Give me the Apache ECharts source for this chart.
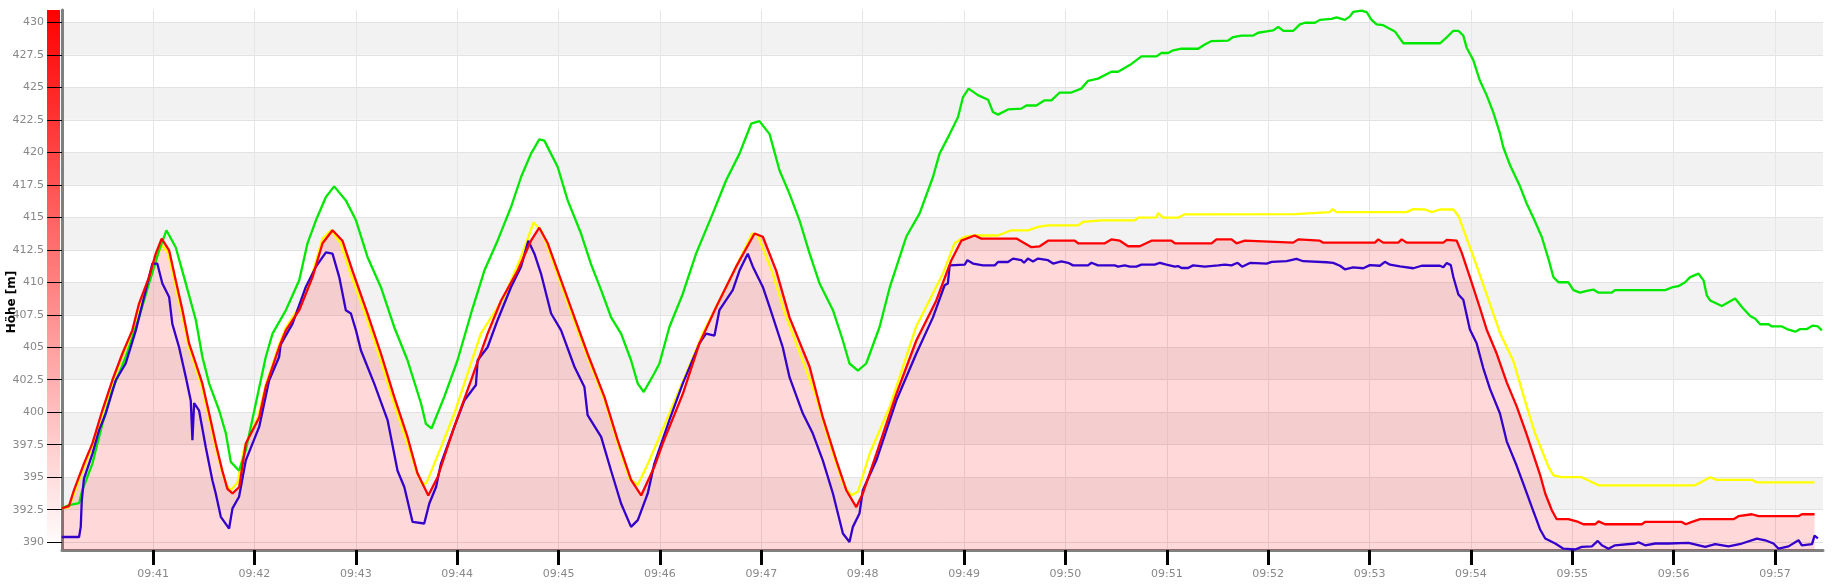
<!DOCTYPE html>
<html>
<head>
<meta charset="utf-8">
<script src="https://cdn.jsdelivr.net/npm/echarts@6/dist/echarts.min.js"></script>
<style>html,body{margin:0;padding:0;background:#fff}#c{width:1838px;height:586px}</style>
</head>
<body>
<div id="c"></div>
<script>
// time in seconds after 09:40:00, values in m
const xTickSeconds = [60,120,180,240,300,360,420,480,540,600,660,720,780,840,900,960,1020];
const yTicks = [390,392.5,395,397.5,400,402.5,405,407.5,410,412.5,415,417.5,420,422.5,425,427.5,430];
const yAxisTitle = 'Höhe [m]';

const redT = [5.9,10.2,13.2,19.1,24.1,30,35.9,41.8,47.7,51.7,57.6,61.6,65.1,69.5,73.4,77.4,81.3,85.3,89.2,93.2,97.1,101,104,107,111,114.9,122.8,126.7,134.6,138.6,146.5,154.4,160.3,166.2,172.1,178,186.9,194.9,202.7,210.6,216.5,222.9,228.4,238.3,248.2,258,266,275.8,283.7,288.6,293.6,301.5,309.4,317.2,327.1,335,342.9,348.9,356.7,361.7,373.5,383.4,393.3,405.1,416,420.9,428.8,436.7,448.6,456.4,464.4,470.3,476.2,480.1,488.1,499.9,511.7,523.6,532.5,538.4,546.3,550.2,571,579.9,584.8,589.7,605.5,607.5,623.3,627.2,632.2,637.1,644,650.9,662.7,664.8,686.5,689.4,698.3,701.3,706.2,734.8,737.8,750.6,752.6,783.2,785.2,788.1,797,799,802,823.7,825.7,831.6,834.5,839.4,845.4,849.3,855.3,861.2,867.1,873,880.9,884,887.9,890.8,897.7,903.6,906.6,913.5,915.5,919.4,941.2,943.1,964.8,967.2,970.8,975.7,995.4,998.4,1006.3,1010.2,1033.9,1035.9,1043.4];
const redV = [392.6,392.77,394.0,396.05,397.6,400.15,402.46,404.5,406.3,408.36,410.4,412.2,413.36,412.46,410.15,407.85,405.3,403.75,402.2,399.9,397.6,395.5,394.1,393.75,394.25,397.6,399.6,401.95,405.0,406.3,407.85,410.4,413.0,414.0,413.2,410.9,407.6,404.5,401.2,398.1,395.3,393.6,395.0,398.9,402.46,406.05,408.6,410.9,413.2,414.2,413.0,410.15,407.3,404.5,401.2,397.85,394.8,393.6,395.8,397.6,401.4,405.3,408.1,411.2,413.75,413.5,410.9,407.3,403.5,399.6,396.3,394.0,392.7,393.75,396.8,401.4,405.5,408.6,411.7,413.2,413.6,413.36,413.36,412.7,412.77,413.2,413.2,413.0,413.0,413.3,413.2,412.77,412.77,413.2,413.2,413.0,413.0,413.3,413.3,413.0,413.2,413.05,413.3,413.2,413.05,413.05,413.3,413.05,413.05,413.3,413.05,413.05,413.26,413.2,412.3,410.4,408.0,406.37,404.5,402.3,400.45,398.3,395.2,393.75,392.46,391.77,391.77,391.56,391.38,391.38,391.6,391.38,391.38,391.56,391.56,391.38,391.56,391.77,391.77,392.0,392.15,392.0,392.0,392.15,392.15];

const yellowT = [5.9,10.2,13.2,19.1,24.1,30,35.9,41.8,47.7,51.7,57.6,61.6,65.5,69,73,77,81,85,89,93,97,101,104,106,110,114,122,126.7,134.6,138.6,146.5,154.4,160.3,165.3,171,177,186,194,202,210,216,219.5,222,230.4,238.3,254,267.9,277.8,285.2,290,293,301,309,317,327,335,342,346.9,353.8,365.6,385.3,401.2,414.6,418,426.8,434,445,452.4,460,468.3,473.2,477.2,484.1,496,511.7,527.5,534.4,540.3,546.3,560.1,568,578,583.8,589.7,607.5,610.4,621.3,641.1,643,653.9,654.8,657.8,666.7,670.6,736,736.8,756.5,758.1,760.5,802,805.9,812.8,816.8,821.7,829.6,832.6,837.5,841.4,849.3,857.2,865.1,873,878,885.9,888.8,893.8,905.6,915.5,972.7,981.6,985.5,1006.3,1009.2,1043.4];
const yellowV = [392.6,392.7,393.7,395.8,397.4,399.9,402.2,404.3,406.1,408.1,410.2,411.9,412.85,412.2,409.9,407.6,405.1,403.5,401.9,399.6,397.3,395.3,394.3,394.0,394.6,397.3,399.6,402.1,405.2,406.5,408.1,410.7,413.36,414.0,413.0,410.6,407.4,404.3,400.9,397.8,395.4,394.4,394.6,397.3,399.9,406.05,408.9,411.95,414.6,413.9,412.9,410.0,407.1,404.3,401.0,397.6,394.9,394.4,396.3,399.9,406.05,410.15,413.75,413.6,410.67,407.6,403.8,401.2,397.8,394.5,393.6,393.9,396.8,400.4,406.6,410.67,413.0,413.5,413.6,413.6,414.0,414.0,414.26,414.38,414.38,414.64,414.77,414.77,414.97,415.0,415.33,414.97,414.97,415.23,415.25,415.4,415.4,415.63,415.4,415.4,415.63,415.6,415.4,415.6,415.6,415.1,413.37,412.0,409.06,406.1,403.95,400.45,398.36,395.8,395.15,395.0,395.0,394.38,394.38,395.0,394.8,394.8,394.6,394.6];

const greenT = [5.9,10.2,16.2,18.1,24.1,30,35.9,43.8,51.7,57.6,63.6,67.9,73.4,79.4,85.3,89.2,93.2,99.1,103.1,106,110.9,114.9,120.8,126.7,130.7,138.6,146.5,151.4,156.4,162.3,167.2,174.1,180.1,186.9,194.9,202.7,210.6,218.6,221.5,224.8,232.4,240.2,248.2,256.1,263.9,271.9,277.8,283.7,288.6,291.6,299.5,305.4,313.3,319.2,325.2,331.1,337,342.9,346.9,350.4,356.7,359.7,365.6,373.5,381.4,391.3,399.2,407.1,414,418.9,424.9,430.8,436.7,442.6,448.6,454.5,462.4,468.3,472.2,477.2,482.1,490,496,505.8,513.7,521.6,525.5,531.5,536.4,539.4,542.7,548.2,554.2,557.1,560.1,566,573.9,576.9,582.8,587.7,591.7,596.6,603.5,609.4,613.4,619.3,627.2,631.2,639.1,645,653.9,656.8,660.8,663.8,668.7,678.6,682.5,686.5,696.3,699.3,704.2,711.2,714.1,719.1,723,726,729,734.9,738.8,741.8,747.7,750.6,757.5,760.5,765.4,768.4,770.3,775.3,778.3,781.2,784.2,788.1,791.1,795,800,821.7,825.7,829.6,832.6,835.5,837.5,841.4,845.4,849.3,853.3,857.2,859.2,863.1,869,873,876.9,881.9,885.9,888.8,891.8,897.7,900.7,904.6,908.6,912.5,915.5,923.4,925.3,955,958.9,962.8,966.8,969.8,974.7,977.7,979.6,981.6,988.5,996.4,1000.4,1005.3,1008.3,1011.2,1016.2,1018.1,1024.1,1027.1,1032,1034.9,1038.9,1042.4,1045.4,1047.7];
const greenV = [392.6,392.85,393.0,394.0,396.05,399.1,401.7,404.25,407.3,409.9,412.46,414.0,412.7,409.9,407.1,404.25,402.2,400.15,398.36,396.18,395.5,397.1,400.67,404.25,406.05,407.85,410.15,413.0,414.77,416.56,417.38,416.3,414.77,411.95,409.6,406.56,404.0,400.67,399.1,398.75,401.2,404.0,407.6,410.9,413.2,415.8,418.1,419.9,421.0,420.9,418.87,416.3,413.75,411.4,409.4,407.3,406.05,404.0,402.2,401.56,403.0,403.75,406.56,409.1,412.2,415.3,417.85,419.9,422.2,422.4,421.4,418.6,416.8,414.77,412.2,409.9,407.85,405.5,403.75,403.2,403.75,406.56,409.6,413.5,415.3,418.1,419.9,421.4,422.7,424.25,424.9,424.4,424.05,423.1,422.9,423.3,423.36,423.6,423.6,424.0,424.0,424.6,424.6,424.9,425.5,425.67,426.2,426.2,426.8,427.38,427.38,427.64,427.64,427.85,427.97,427.97,428.3,428.56,428.6,428.87,428.98,428.98,429.2,429.3,429.38,429.65,429.35,429.35,429.84,429.97,429.97,430.19,430.27,430.38,430.19,430.46,430.8,430.9,430.78,430.19,429.84,429.78,429.57,429.3,428.39,428.39,428.84,429.35,429.35,428.98,428.04,427.1,425.48,424.4,423.06,421.45,420.37,419.03,417.4,416.06,414.98,413.5,411.8,410.4,410.0,410.0,409.4,409.2,409.33,409.44,409.2,409.2,409.4,409.4,409.6,409.7,410.0,410.4,410.67,410.15,409.0,408.6,408.18,408.75,408.1,407.4,407.2,406.77,406.77,406.6,406.6,406.4,406.2,406.4,406.4,406.67,406.6,406.3];

const blueT = [5.9,16.2,17.2,17.8,19.1,24.1,28,32,37.9,43.8,49.8,55.7,59.6,62.5,65.5,69.5,71.4,75.4,79.4,82.3,83.3,84.3,85.3,87.2,91.2,95.1,97.1,100.1,105,107,110.9,114.9,122.8,128.7,134.6,135.5,142.5,150.4,156.4,162.3,166.2,170.2,174.1,177.1,180.1,183,190.9,198.8,204.7,208.7,213.6,220.5,223.5,227.5,230.4,238.3,244.2,251.1,252.1,258,263.9,271.9,277.8,282.1,285.7,289.6,295.6,301.5,309.4,315.3,317.2,325.2,331.1,337,342.9,346.9,352.8,356.7,365.6,373.5,383.4,387.3,392.3,395.2,403.1,407.1,412,415,420.9,424.9,432.7,436.7,444.6,450.5,456.4,462.4,468.3,472.2,474.2,478.1,480.1,488.1,499.9,511.7,521.6,528.5,530.4,531.5,540.4,542,545.3,551.2,558.2,560.1,566,569,573.9,575.5,577.8,580.8,583.8,589.7,592.7,597.6,601.6,604.5,613.4,615.4,619.3,629.2,631.2,635.1,638.1,642,645,652.9,655.9,659.8,664.8,666.7,668.7,672.6,675.6,682.5,690.4,694.4,698.3,701.9,704.6,709.2,719.1,722.1,730.9,736.8,740.7,754.6,758.5,762.5,765.4,770.3,776.3,780.2,786.1,789.1,792.1,798,805.9,810.9,821.7,823.7,825.7,828.1,829.6,832.6,835.5,839.4,843.4,847.3,851.3,857.2,861.2,867.1,871,877,880.9,884,889.9,894.8,901.7,905.6,911.6,915.1,917.5,921.4,925.3,937.2,939.2,943.1,949.1,956.9,968.8,978.7,984.6,992.5,1000.4,1009.3,1014.2,1019.1,1022.1,1028,1033.9,1035.9,1041.9,1043.4,1045.4];
const blueV = [390.4,390.4,391.18,393.2,394.9,396.8,398.6,399.9,402.46,403.75,406.3,409.4,411.44,411.44,409.9,408.87,406.8,405.0,402.7,400.9,397.85,400.7,400.67,400.15,397.3,394.77,393.75,391.95,391.05,392.6,393.5,396.3,398.87,402.46,404.25,405.2,406.8,409.64,411.2,412.3,412.2,410.4,407.85,407.6,406.3,404.77,402.2,399.4,395.5,394.25,391.56,391.44,392.98,394.25,396.05,398.87,400.9,402.1,404.0,405.0,407.08,409.64,411.2,413.2,412.2,410.67,407.6,406.3,403.5,401.95,399.77,398.1,395.5,392.98,391.18,391.7,393.75,396.05,399.4,402.2,405.3,406.05,405.9,407.85,409.4,410.9,412.2,411.2,409.64,408.1,405.0,402.7,399.9,398.36,396.3,393.75,390.67,390.02,391.18,392.2,394.0,396.3,400.9,404.5,407.3,409.77,409.9,411.3,411.36,411.7,411.44,411.3,411.3,411.56,411.56,411.82,411.7,411.5,411.82,411.6,411.82,411.7,411.44,411.6,411.5,411.3,411.3,411.5,411.3,411.3,411.2,411.3,411.2,411.2,411.36,411.36,411.5,411.36,411.2,411.25,411.1,411.1,411.3,411.2,411.3,411.36,411.3,411.5,411.2,411.49,411.43,411.57,411.62,411.8,411.62,411.54,411.49,411.27,411.0,411.14,411.08,411.32,411.27,411.57,411.35,411.22,411.08,411.27,411.27,411.16,411.49,411.32,410.41,409.06,408.66,406.37,405.3,403.4,401.8,399.9,397.76,395.88,394.5,392.37,391.0,390.28,389.9,389.5,389.44,389.64,389.68,390.1,389.76,389.5,389.76,389.9,390.0,389.76,389.9,389.9,389.95,389.64,389.85,389.68,389.9,390.28,390.15,389.9,389.5,389.68,390.15,389.76,389.85,390.5,390.3];

function pairs(T, V) { return T.map((t, i) => [t, V[i]]); }
function fmtTime(s) { const m = Math.round(s / 60) + 40; return '09:' + (m < 10 ? '0' : '') + m; }

const chart = echarts.init(document.getElementById('c'), null, {renderer: 'canvas'});
const lineBase = {type: 'line', showSymbol: false, symbol: 'none', animation: false, silent: true, clip: true};
const LW = 2.3;
chart.setOption({
  animation: false,
  backgroundColor: '#fff',
  grid: {left: 62, right: 15, top: 10, bottom: 36, containLabel: false},
  xAxis: {
    type: 'value', min: 6.1, max: 1048.4,
    axisLine: {show: true, lineStyle: {color: '#808080', width: 3}},
    axisTick: {show: true, customValues: xTickSeconds, length: 15, lineStyle: {color: '#000', width: 3}},
    axisLabel: {customValues: xTickSeconds, formatter: fmtTime, color: '#888', fontSize: 11, fontFamily: 'DejaVu Sans', margin: 19},
    splitLine: {show: true, lineStyle: {color: '#e6e6e6', width: 1}},
    splitArea: {show: false}
  },
  yAxis: {
    type: 'value', min: 389.4, max: 430.95,
    axisLine: {show: true, lineStyle: {color: '#808080', width: 3}},
    axisTick: {show: true, customValues: yTicks, length: 15, lineStyle: {color: '#000', width: 1}},
    axisLabel: {customValues: yTicks, color: '#888', fontSize: 11, fontFamily: 'DejaVu Sans', margin: 18},
    splitLine: {show: true, lineStyle: {color: '#e2e2e2', width: 1}},
    splitArea: {show: true, areaStyle: {color: ['rgba(255,255,255,0)', '#f2f2f2']}}
  },
  graphic: [
    {type: 'rect', z: -1, shape: {x: 47, y: 10, width: 13, height: 540},
     style: {fill: new echarts.graphic.LinearGradient(0, 0, 0, 1, [{offset: 0, color: '#ff0000'}, {offset: 1, color: '#ffffff'}])}},
    {type: 'text', x: 12, y: 302, rotation: Math.PI / 2,
     style: {text: yAxisTitle, font: 'bold 12px "DejaVu Sans"', fill: '#000', align: 'center', verticalAlign: 'middle'}}
  ],
  series: [
    Object.assign({}, lineBase, {name: 'fill', data: pairs(redT, redV), z: 1,
      lineStyle: {width: 0, opacity: 0}, areaStyle: {color: 'rgba(255,0,0,0.21)'}}),
    Object.assign({}, lineBase, {name: 'gelb', data: pairs(yellowT, yellowV), z: 2, lineStyle: {color: '#ffff00', width: LW}}),
    Object.assign({}, lineBase, {name: 'grün', data: pairs(greenT, greenV), z: 3, lineStyle: {color: '#00e800', width: LW}}),
    Object.assign({}, lineBase, {name: 'blau', data: pairs(blueT, blueV), z: 4, lineStyle: {color: '#3300cc', width: LW}}),
    Object.assign({}, lineBase, {name: 'rot', data: pairs(redT, redV), z: 5, lineStyle: {color: '#ff0000', width: LW}})
  ]
});
</script>
</body>
</html>
